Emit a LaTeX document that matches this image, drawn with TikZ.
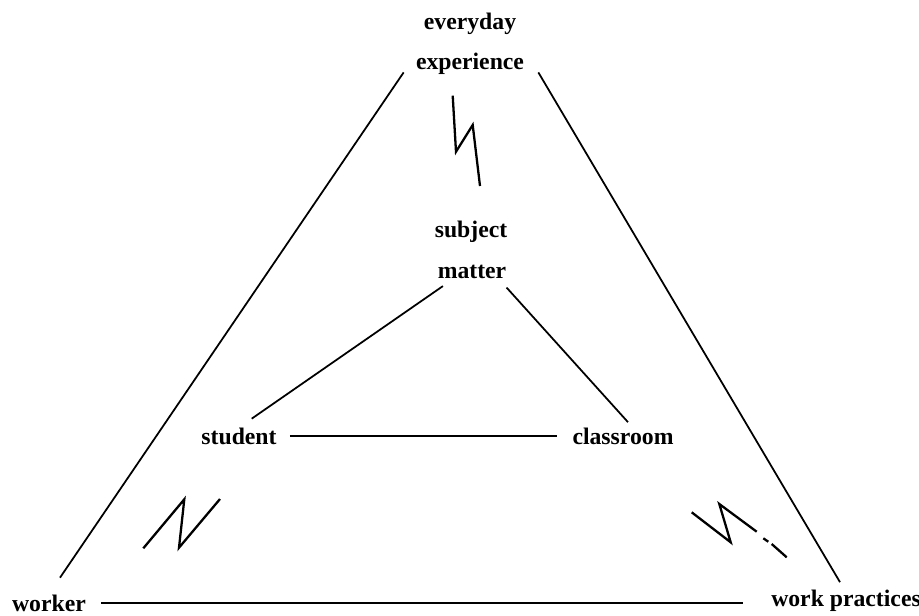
\documentclass[tikz,border=0pt]{standalone}
\usepackage{fontspec}
\setmainfont{Liberation Serif}
\usetikzlibrary{positioning,calc}

\begin{document}
\begin{tikzpicture}[x=0.02cm, y=-0.02cm, font=\fontsize{13.5}{16}\selectfont\bfseries,
    lbl/.style={inner sep=2pt, anchor=base},
    edge/.style={line width=1pt},
    bolt/.style={line width=1.3pt, line join=miter}]
    \useasboundingbox (0,0) rectangle (919,615);
    % ---- labels (placed on their base lines)
    \node[lbl] (ev)  at (470, 30) {everyday};
    \node[lbl] (exp) at (470, 70) {experience};
    \node[lbl] (sub) at (471,237) {subject};
    \node[lbl] (mat) at (472,278) {matter};
    \node[lbl] (stu) at (239,444) {student};
    \node[lbl] (cla) at (623,444) {classroom};
    \node[lbl] (wor) at ( 49,611) {worker};
    \node[lbl] (wp)  at (846,606) {work practices};
    % ---- outer triangle
    \draw[edge] ([shift={(-8.5,-6.5)}]exp.south west) -- ([shift={(11,-13)}]wor.north);
    \draw[edge] ([shift={(10.5,-6.5)}]exp.south east) -- ([shift={(-6,-3.5)}]wp.north);
    \draw[edge, shorten <=6.5pt, shorten >=14pt] (wor.east) -- (wor.east -| wp.west);
    % ---- inner triangle
    \draw[edge] ([shift={(9,4)}]mat.south west) -- ([shift={(12.7,-5)}]stu.north);
    \draw[edge] ([shift={(-3.5,5.5)}]mat.south east) -- ([shift={(5,-1.5)}]cla.north);
    \draw[edge, shorten <=5.4pt, shorten >=6.5pt] (stu.east) -- (stu.east -| cla.west);
    % ---- breaks
    \draw[bolt] (452.7,95.7) -- (456,151.7) -- (472.7,125) -- (480,186);
    \draw[bolt] (143.3,548.3) -- (184.3,499.3) -- (179,547.7) -- (220,499);
    \draw[bolt] (691.7,512.3) -- (730.7,542.3) -- (719.3,504) -- (756.7,531.7);
    \draw[bolt] (763.3,538.3) -- (768.3,541.7);
    \draw[bolt] (771.7,544) -- (786.7,557.3);
\end{tikzpicture}
\end{document}
